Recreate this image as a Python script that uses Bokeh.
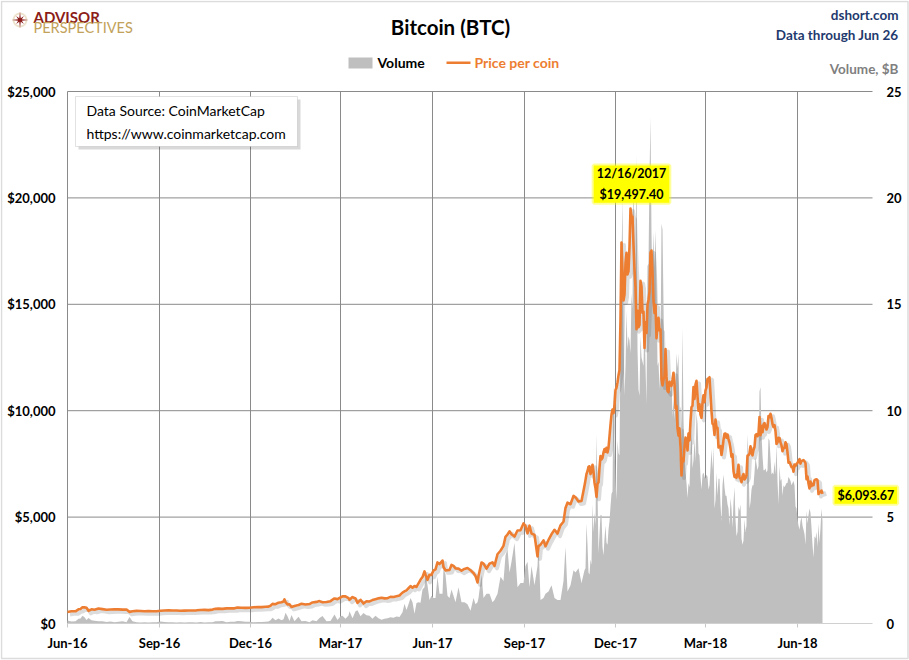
import numpy as np
import pandas as pd
from bokeh.plotting import figure
from bokeh.models import Range1d, Label, BoxAnnotation, PolyAnnotation, ColumnDataSource
from bokeh.transform import dodge
from bokeh.core.properties import value
from bokeh.embed import file_html
from bokeh.resources import INLINE

# ---------------- data ----------------
early_dates = [
    "2016-06-01", "2016-06-05", "2016-06-09", "2016-06-12", "2016-06-14", "2016-06-16", "2016-06-18", "2016-06-20", "2016-06-22", "2016-06-25", "2016-06-28",
    "2016-07-02", "2016-07-06", "2016-07-10", "2016-07-14", "2016-07-18", "2016-07-22", "2016-07-26", "2016-07-30",
    "2016-08-02", "2016-08-05", "2016-08-09", "2016-08-13", "2016-08-17", "2016-08-21", "2016-08-25", "2016-08-29",
    "2016-09-02", "2016-09-06", "2016-09-10", "2016-09-14", "2016-09-18", "2016-09-22", "2016-09-26", "2016-09-30",
    "2016-10-04", "2016-10-08", "2016-10-12", "2016-10-16", "2016-10-20", "2016-10-24", "2016-10-27", "2016-10-30",
    "2016-11-03", "2016-11-07", "2016-11-11", "2016-11-15", "2016-11-18", "2016-11-22", "2016-11-26", "2016-11-30",
    "2016-12-04", "2016-12-08", "2016-12-12", "2016-12-16", "2016-12-19", "2016-12-21", "2016-12-23", "2016-12-26", "2016-12-29",
    "2017-01-01", "2017-01-03", "2017-01-04", "2017-01-05", "2017-01-07", "2017-01-09", "2017-01-11", "2017-01-14", "2017-01-18", "2017-01-21", "2017-01-25", "2017-01-29",
    "2017-02-01", "2017-02-05", "2017-02-08", "2017-02-11", "2017-02-15", "2017-02-19", "2017-02-23", "2017-02-26",
    "2017-03-01", "2017-03-03", "2017-03-06", "2017-03-09", "2017-03-10", "2017-03-13", "2017-03-16", "2017-03-18", "2017-03-21", "2017-03-24", "2017-03-27", "2017-03-30",
    "2017-04-02", "2017-04-05", "2017-04-08", "2017-04-11", "2017-04-14", "2017-04-17", "2017-04-20", "2017-04-23", "2017-04-26", "2017-04-29",
    "2017-05-02", "2017-05-04", "2017-05-06", "2017-05-08", "2017-05-10", "2017-05-12", "2017-05-14", "2017-05-16", "2017-05-18", "2017-05-20", "2017-05-22", "2017-05-24", "2017-05-25", "2017-05-27", "2017-05-29", "2017-05-31",
    "2017-06-02", "2017-06-04", "2017-06-06", "2017-06-08", "2017-06-11", "2017-06-12", "2017-06-14", "2017-06-16", "2017-06-18", "2017-06-20", "2017-06-22", "2017-06-24", "2017-06-27", "2017-06-30",
    "2017-07-03", "2017-07-06", "2017-07-09", "2017-07-12", "2017-07-14", "2017-07-16", "2017-07-17", "2017-07-20", "2017-07-22", "2017-07-25", "2017-07-28", "2017-07-31",
    "2017-08-02", "2017-08-05", "2017-08-08", "2017-08-11", "2017-08-13", "2017-08-15", "2017-08-17", "2017-08-19", "2017-08-22", "2017-08-25", "2017-08-28", "2017-08-31",
    "2017-09-02", "2017-09-04", "2017-09-06", "2017-09-08", "2017-09-11", "2017-09-14", "2017-09-15", "2017-09-17", "2017-09-20", "2017-09-22", "2017-09-25", "2017-09-28",
    "2017-10-01", "2017-10-04", "2017-10-07", "2017-10-10", "2017-10-12", "2017-10-14", "2017-10-17", "2017-10-20", "2017-10-22", "2017-10-25", "2017-10-28", "2017-10-31",
]
early_price = [
    537, 574, 574, 665, 686, 766, 757, 736, 596, 666, 646,
    703, 676, 649, 661, 673, 664, 654, 655,
    547, 575, 592, 586, 574, 581, 578, 575,
    600, 611, 623, 609, 611, 596, 606, 609,
    610, 619, 636, 641, 630, 653, 688, 697,
    688, 711, 716, 711, 751, 739, 736, 743,
    766, 768, 770, 784, 792, 834, 921, 907, 975,
    998, 1033, 1135, 1005, 895, 902, 778, 818, 872, 924, 894, 914,
    989, 1015, 1052, 1000, 1009, 1049, 1178, 1145,
    1222, 1275, 1273, 1192, 1116, 1241, 1173, 971, 1114, 937, 1043, 1037,
    1099, 1143, 1182, 1208, 1180, 1190, 1254, 1247, 1281, 1317,
    1451, 1507, 1560, 1657, 1756, 1681, 1764, 1716, 1882, 2052, 2181, 2446, 2304, 2053, 2288, 2287,
    2488, 2547, 2870, 2795, 2959, 2655, 2497, 2506, 2519, 2751, 2705, 2590, 2577, 2480,
    2564, 2611, 2506, 2369, 2234, 1930, 2228, 2868, 2815, 2576, 2809, 2875,
    2710, 3253, 3419, 3650, 4073, 4181, 4332, 4193, 4085, 4371, 4382, 4703,
    4579, 4236, 4598, 4229, 4162, 3155, 3637, 3698, 3907, 3631, 3926, 4193,
    4403, 4226, 4611, 4782, 5431, 5678, 5605, 5994, 5930, 5735, 5754, 6468,
]
early_volume = [
    0.14, 0.09, 0.11, 0.22, 0.24, 0.36, 0.29, 0.16, 0.26, 0.15, 0.13,
    0.10, 0.11, 0.07, 0.09, 0.06, 0.08, 0.11, 0.06,
    0.30, 0.10, 0.06, 0.05, 0.06, 0.05, 0.06, 0.06,
    0.09, 0.07, 0.06, 0.06, 0.05, 0.06, 0.05, 0.06,
    0.06, 0.05, 0.07, 0.05, 0.06, 0.06, 0.10, 0.11,
    0.12, 0.06, 0.08, 0.08, 0.12, 0.11, 0.08, 0.08,
    0.06, 0.07, 0.07, 0.08, 0.09, 0.15, 0.27, 0.15, 0.23,
    0.15, 0.20, 0.34, 0.50, 0.34, 0.12, 0.40, 0.11, 0.32, 0.11, 0.12, 0.06,
    0.15, 0.11, 0.26, 0.35, 0.10, 0.12, 0.42, 0.17,
    0.34, 0.36, 0.22, 0.38, 0.57, 0.25, 0.57, 0.62, 0.34, 0.49, 0.39, 0.36,
    0.22, 0.36, 0.25, 0.18, 0.22, 0.25, 0.29, 0.27, 0.33, 0.30,
    0.53, 0.93, 0.64, 0.91, 1.2, 1.0, 0.46, 0.96, 1.0, 0.98, 1.6, 1.7, 2.4, 1.8, 1.1, 1.3,
    1.2, 1.2, 2.2, 1.4, 1.4, 2.6, 2.3, 1.3, 1.2, 1.6, 1.3, 1.0, 1.7, 1.0,
    1.0, 0.9, 0.6, 1.2, 0.9, 1.0, 1.2, 2.3, 1.2, 1.4, 1.4, 1.0,
    1.1, 1.4, 2.2, 2.0, 3.2, 3.5, 2.4, 2.9, 3.8, 1.7, 1.9, 1.9,
    2.7, 2.9, 1.7, 2.7, 1.8, 2.7, 3.9, 1.1, 1.2, 1.4, 1.5, 1.8,
    1.2, 1.1, 1.1, 2.0, 3.6, 1.5, 1.8, 2.5, 2.4, 2.6, 1.9, 2.5,
]

# daily values from 2017-11-01 to 2018-06-26
late_start = "2017-11-01"
late_price = [
    # Nov 2017
    6737, 7024, 7152, 7364, 7389, 7022, 7144, 7459, 7143, 6618, 6357, 5950, 6559, 6635, 7315,
    7871, 7708, 7790, 8037, 8200, 8071, 8253, 8038, 8254, 8791, 9330, 9819, 10058, 9888, 10233,
    # Dec 2017
    10975.6, 11074.6, 11323.2, 11657.2, 11916.7, 14291.5, 17899.7, 16569.4, 15178.2, 15455.4, 16936.8,
    17415.4, 16408.2, 16564.0, 17706.9, 19497.4, 19140.8, 19114.2, 17776.7, 16624.6, 15802.9,
    13831.8, 14699.2, 13925.8, 14026.6, 16099.8, 15838.5, 14606.5, 14656.2, 12952.2, 14156.4,
    # Jan 2018
    13657.2, 14982.1, 15201.0, 15599.2, 17429.5, 17527.0, 16477.6, 15170.1, 14595.4, 14973.3, 13405.8,
    13980.6, 14360.2, 13772.0, 13819.8, 11490.5, 11188.6, 11474.9, 11607.4, 12899.2, 11600.1,
    10931.4, 10868.4, 11359.4, 11259.4, 11171.4, 11440.7, 11786.3, 11296.4, 10106.3, 10221.1,
    # Feb 2018
    9170.5, 8830.8, 9174.9, 8277.0, 6955.3, 7754.0, 7621.3, 8265.6, 8737.0, 8621.9, 8130.0, 8926.6,
    8598.3, 9494.6, 10166.4, 10233.9, 11112.7, 10551.8, 11225.3, 11403.7, 10690.4, 10005.0,
    10301.1, 9813.1, 9664.7, 10366.7, 10725.6, 10397.9,
    # Mar 2018
    10951.0, 11086.4, 11489.7, 11512.6, 11573.3, 10779.9, 9965.6, 9395.0, 9337.6, 8866.0, 9578.6,
    9205.1, 9194.9, 8269.8, 8300.9, 8338.4, 7916.9, 8223.7, 8630.7, 8913.5, 8929.3, 8728.5,
    8879.6, 8668.1, 8495.8, 8209.4, 7833.0, 7954.5, 7165.7, 6890.5, 6973.5,
    # Apr 2018
    6844.2, 7083.8, 7456.1, 6853.8, 6811.5, 6636.3, 6911.1, 7023.5, 6770.7, 6834.8, 6968.3,
    7889.3, 7896.0, 7986.2, 8329.1, 8058.7, 7902.1, 8163.4, 8294.3, 8845.8, 8895.6, 8802.5,
    8930.9, 9697.5, 8845.7, 9281.5, 8987.1, 9348.5, 9419.1, 9240.6,
    # May 2018
    9119.0, 9235.9, 9743.9, 9700.8, 9858.2, 9654.8, 9373.0, 9234.8, 9325.2, 9043.9, 8441.5,
    8504.9, 8723.9, 8716.8, 8510.4, 8368.8, 8094.3, 8251.0, 8247.2, 8513.3, 8419.0, 8041.8,
    7557.8, 7587.3, 7480.1, 7355.9, 7368.2, 7136.0, 7472.6, 7406.5, 7494.2,
    # Jun 2018
    7541.5, 7643.5, 7720.3, 7514.5, 7633.8, 7654.0, 7678.2, 7624.9, 7532.0, 6786.0, 6906.9,
    6582.4, 6349.9, 6675.4, 6456.6, 6550.2, 6499.3, 6734.8, 6769.9, 6776.6, 6729.7, 6083.7,
    6162.5, 6173.2, 6249.2, 6093.67,
]
late_volume = [
    # Nov 2017
    2.6, 4.7, 3.7, 2.4, 2.3, 3.0, 2.8, 5.6, 4.3, 5.2, 4.6, 8.9, 6.3, 3.3, 4.2,
    5.1, 5.1, 3.6, 3.2, 4.0, 4.6, 3.8, 3.7, 4.4, 4.8, 5.5, 6.1, 6.2, 11.3, 8.4,
    # Dec 2017
    6.8, 5.8, 8.6, 8.0, 7.9, 13.0, 17.1, 20.0, 13.9, 10.7, 12.1,
    14.7, 12.9, 13.5, 13.3, 12.7, 15.5, 14.8, 21.4, 16.9, 16.5,
    22.1, 12.9, 11.0, 10.7, 13.5, 12.5, 12.3, 12.1, 14.5, 12.1,
    # Jan 2018
    10.3, 16.8, 16.9, 21.0, 23.8, 18.3, 15.9, 18.4, 16.7, 18.5, 16.0,
    12.1, 12.3, 11.0, 12.6, 18.8, 18.5, 15.0, 11.6, 11.9, 11.7,
    11.0, 11.4, 11.0, 10.9, 11.7, 9.7, 10.6, 9.6, 10.6, 12.7,
    # Feb 2018
    12.0, 12.7, 8.3, 7.1, 9.3, 13.9, 9.6, 7.9, 7.1, 6.6, 5.9, 6.6,
    6.4, 7.9, 9.1, 7.3, 7.7, 8.7, 7.6, 9.9, 9.4, 8.0,
    7.9, 6.9, 6.3, 7.0, 7.1, 6.9,
    # Mar 2018
    6.8, 7.0, 6.9, 6.3, 6.5, 7.3, 8.2, 7.2, 8.3, 5.4, 5.8,
    7.1, 6.0, 6.8, 6.8, 5.6, 4.8, 6.5, 7.0, 6.4, 6.0, 6.0,
    5.6, 5.4, 4.6, 5.9, 5.4, 4.5, 5.7, 6.4, 4.9,
    # Apr 2018
    4.1, 4.3, 5.5, 5.3, 5.6, 4.0, 3.7, 3.9, 4.9, 4.3, 4.6,
    8.9, 7.8, 5.4, 5.7, 6.3, 6.5, 6.5, 7.1, 7.8, 7.5, 7.2,
    7.4, 10.9, 11.1, 8.9, 7.9, 7.2, 7.2, 7.3,
    # May 2018
    7.1, 7.2, 8.7, 8.6, 7.8, 7.0, 7.1, 7.0, 7.6, 7.0, 8.4,
    6.7, 5.6, 7.4, 6.7, 6.8, 6.0, 6.5, 6.4, 6.5, 6.6, 6.6,
    6.9, 6.8, 6.7, 6.5, 6.6, 6.7, 6.5, 5.5, 5.4,
    # Jun 2018
    4.9, 4.6, 4.4, 4.8, 5.0, 4.6, 4.4, 4.2, 3.7, 5.3, 4.7,
    5.1, 5.4, 5.2, 4.5, 3.7, 3.1, 4.1, 4.0, 4.3, 3.6, 4.7,
    3.8, 4.5, 5.4, 4.8,
]

month_ticks = ["2016-06-01", "2016-09-01", "2016-12-01", "2017-03-01", "2017-06-01",
               "2017-09-01", "2017-12-01", "2018-03-01", "2018-06-01"]
axis_end = "2018-08-15"
price_ticks = [0, 5000, 10000, 15000, 20000, 25000]
volume_ticks = [0, 5, 10, 15, 20, 25]
peak_date = "2017-12-16"

# ---------------- assemble ----------------
dates = list(pd.to_datetime(early_dates)) + list(pd.date_range(late_start, periods=len(late_price), freq="D"))
price = list(early_price) + list(late_price)
volume = list(early_volume) + list(late_volume)
src = ColumnDataSource(dict(x=dates, price=price, vol=volume))

def ms(d):
    return pd.Timestamp(d).value // 10**6

W, H = 909, 660
PL, PT, PB = 67, 91, 623        # plot-area left / top / bottom on the page (px)
DAY = 86400000
S = price_ticks[-1] / (PB - PT)          # dollars per pixel
VS = volume_ticks[-1] / (PB - PT)        # $B per pixel
x_first = ms(month_ticks[0])
x_last = ms(axis_end)

FONT = "Lato"
ORANGE = "#ED7D31"
NAVY = "#1F3A6E"
GRID = "#8A8A8A"

p = figure(width=W, height=H, output_backend="svg", toolbar_location=None,
           x_axis_location=None, y_axis_location=None, min_border=0,
           x_range=Range1d(x_first - PL * DAY, x_first + (W - PL) * DAY),
           y_range=Range1d(-(H - PB) * S, PB * S))
p.outline_line_color = None
p.background_fill_color = "white"
p.border_fill_color = "white"
p.xgrid.visible = False
p.ygrid.visible = False
p.extra_y_ranges = {"vol": Range1d(-(H - PB) * VS, PB * VS)}

tick_ms = [ms(t) for t in month_ticks]
nx = len(tick_ms)
grid_y = price_ticks[1:]
ny = len(grid_y)

# grid lines
p.segment(x0=tick_ms, y0=[0] * nx, x1=tick_ms, y1=[price_ticks[-1]] * nx,
          line_color=GRID, line_width=1)
p.segment(x0=[x_first] * ny, y0=grid_y, x1=[x_last] * ny, y1=grid_y,
          line_color=GRID, line_width=1)

# volume area
p.varea(x="x", y1=0, y2="vol", source=src, fill_color="#BFBFBF", y_range_name="vol")

# x axis line and ticks
p.segment(x0=[x_first], y0=[0], x1=[x_last], y1=[0], line_color="#D0D0D0", line_width=1.2)
p.segment(x0=tick_ms, y0=[0] * nx, x1=tick_ms, y1=[-4 * S] * nx, line_color="#C8C8C8", line_width=1)

# price line shadow + line
p.line(x=dodge("x", 2.5 * DAY, range=p.x_range), y=dodge("price", -2.5 * S, range=p.y_range),
       source=src, line_color="#606060", line_alpha=0.22, line_width=4, line_join="round")
p.line(x="x", y="price", source=src, line_color=ORANGE, line_width=2.6, line_join="round")

# tick labels
tick_font = dict(text_font=value(FONT), text_font_style="bold", text_font_size="13px",
                 text_color="black", text_baseline="middle")
p.text(x=tick_ms, y=[0] * nx, text=[pd.Timestamp(t).strftime("%b-%y") for t in month_ticks],
       text_align="center", y_offset=19, **tick_font)
p.text(x=[x_first] * len(price_ticks), y=price_ticks, text=[f"${v:,.0f}" for v in price_ticks],
       text_align="right", x_offset=-12, **tick_font)
p.text(x=[x_last] * len(volume_ticks), y=volume_ticks, text=[f"{v}" for v in volume_ticks],
       text_align="left", x_offset=14, y_range_name="vol", **tick_font)

# ---------------- annotations (screen px, frame == whole canvas) ----------------
def sx(xp):
    return xp

def sy(yp):
    return H - yp

def text_label(xp, yp, text, color="black", size="14px", align="left", style="bold"):
    p.add_layout(Label(x=sx(xp), y=sy(yp), x_units="screen", y_units="screen", text=text,
                       text_align=align, text_baseline="middle", text_color=color,
                       text_font=FONT, text_font_style=style, text_font_size=size))

def screen_box(l, r, t, b, **kw):
    p.add_layout(BoxAnnotation(left=sx(l), right=sx(r), top=sy(t), bottom=sy(b),
                               left_units="screen", right_units="screen", top_units="screen",
                               bottom_units="screen", **kw))

# outer frame of the chart
screen_box(1, 907.5, 1, 658, fill_alpha=0, line_color="#8C8C8C", line_width=1.5)

text_label(450, 26, "Bitcoin (BTC)", size="20.5px", align="center")
text_label(898, 14, "dshort.com", color=NAVY, size="13.5px", align="right")
text_label(898, 34, "Data through Jun 26", color=NAVY, size="13.5px", align="right")
text_label(898, 68, "Volume, $B", color="#7F7F7F", size="13.5px", align="right")
text_label(377, 62, "Volume")
text_label(474, 62, "Price per coin", color=ORANGE)
text_label(33, 16, "ADVISOR", color="#8C1D18", size="15px")
text_label(33, 26.5, "PERSPECTIVES", color="#C2A25A", size="14.5px", style="normal")

# legend swatches
screen_box(348, 372, 57, 68, fill_color="#BFBFBF", fill_alpha=1, line_color=None)
screen_box(446, 470, 61, 63.5, fill_color=ORANGE, fill_alpha=1, line_color=None)

# logo compass
cx, cy = 19.5, 19.5
ang = np.deg2rad(np.arange(16) * 22.5)
rad = np.array([8.5 if k % 4 == 0 else (5.5 if k % 4 == 2 else 2.0) for k in range(16)])
ring = np.deg2rad(np.arange(0, 360, 15))
p.add_layout(PolyAnnotation(xs=list(sx(cx + 6.5 * np.sin(ring))), ys=list(sy(cy - 6.5 * np.cos(ring))),
                            xs_units="screen", ys_units="screen",
                            fill_alpha=0, line_color="#C2A25A", line_width=1.8))
p.add_layout(PolyAnnotation(xs=list(sx(cx + rad * np.sin(ang))), ys=list(sy(cy - rad * np.cos(ang))),
                            xs_units="screen", ys_units="screen",
                            fill_color="#8C1D18", fill_alpha=1, line_color=None))

# data source box (shadow + box + text)
screen_box(78, 300, 99, 149, fill_color="#000000", fill_alpha=0.15, line_color=None)
screen_box(75, 297, 96, 146, fill_color="white", fill_alpha=1, line_color="#A0A0A0", line_width=1)
p.add_layout(Label(x=sx(86), y=sy(121.5), x_units="screen", y_units="screen",
                   text="Data Source: CoinMarketCap\nhttps://www.coinmarketcap.com",
                   text_align="left", text_baseline="middle", text_color="black",
                   text_font=FONT, text_font_size="14px", text_line_height=1.35))

# value callouts
pk = pd.Timestamp(peak_date)
pk_val = price[dates.index(pk)]
callout = dict(text_color="black", text_font=FONT, text_font_style="bold",
               text_font_size="12.5px", text_baseline="middle",
               background_fill_color="#FFFF00", background_fill_alpha=1,
               border_line_color="#FFFF00", border_line_alpha=0.4, border_line_width=4,
               padding=dict(left=3, right=3, top=1, bottom=1))
p.add_layout(Label(x=ms(pk), y=pk_val, x_offset=1, y_offset=24.5,
                   text=f"{pk:%m/%d/%Y}\n${pk_val:,.2f}", text_align="center",
                   text_line_height=1.35, **callout))
p.add_layout(Label(x=ms(dates[-1]), y=price[-1], x_offset=12, y_offset=-1.5,
                   text=f"${price[-1]:,.2f}", text_align="left", **callout))

open("out.html", "w").write(file_html(p, INLINE))
